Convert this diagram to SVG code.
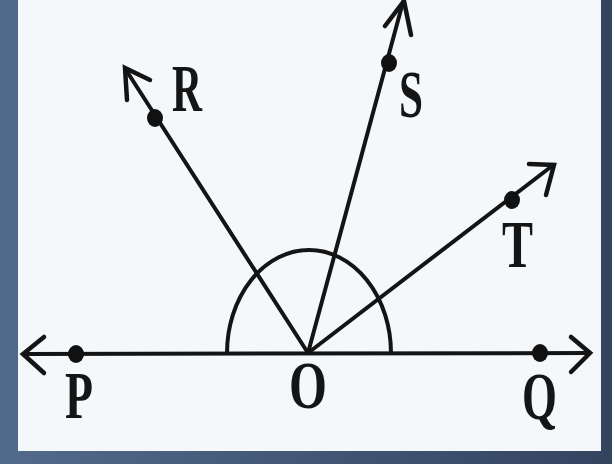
<svg xmlns="http://www.w3.org/2000/svg" width="612" height="464" viewBox="0 0 612 464">
<defs>
<linearGradient id="bg" x1="0" y1="0" x2="1" y2="0">
<stop offset="0" stop-color="#526a8c"/>
<stop offset="1" stop-color="#33445f"/>
</linearGradient>
<style>
.ln{stroke:#141414;stroke-width:4;fill:none;stroke-linecap:round;stroke-linejoin:round}
.hd{stroke:#141414;stroke-width:4.5;fill:none;stroke-linecap:round;stroke-linejoin:miter}
.dot{fill:#111}
.lb{font-family:"Liberation Serif","Times New Roman",serif;font-size:68px;font-weight:bold;fill:#151515}
</style>
</defs>
<rect x="0" y="0" width="612" height="464" fill="url(#bg)"/>
<rect x="18" y="0" width="583" height="451" fill="#f5f8fb"/>
<g id="connectors">
<path id="arc" class="ln" d="M227,353 A82,103 0 0 1 391,353"/>
<line id="PQ" class="ln" x1="24" y1="354" x2="589" y2="353"/>
<line id="OR" class="ln" x1="308" y1="353" x2="126" y2="70"/>
<line id="OS" class="ln" x1="308" y1="353" x2="403" y2="2"/>
<line id="OT" class="ln" x1="308" y1="353" x2="552" y2="166"/>
<polyline class="hd" points="44,337 23,354 44,373"/>
<polyline class="hd" points="571,337 590,353 571,372"/>
<polyline class="hd" points="150,80 125,68 127,100"/>
<polyline class="hd" points="385,26 404,1 411,35"/>
<polyline class="hd" points="529,164 554,165 546,195"/>
</g>
<g id="node-P"><ellipse class="dot" cx="76" cy="354" rx="8" ry="9"/><text class="lb" x="65" y="418" textLength="28" lengthAdjust="spacingAndGlyphs" font-size="78">P</text></g>
<g id="node-O"><text class="lb" x="289" y="408" textLength="38" lengthAdjust="spacingAndGlyphs">O</text></g>
<g id="node-Q"><ellipse class="dot" cx="540" cy="353" rx="8" ry="9"/><text class="lb" x="522" y="419" textLength="35" lengthAdjust="spacingAndGlyphs" font-size="78">Q</text></g>
<g id="node-R"><ellipse class="dot" cx="155" cy="118" rx="8" ry="9"/><text class="lb" x="172" y="111" textLength="30" lengthAdjust="spacingAndGlyphs">R</text></g>
<g id="node-S"><ellipse class="dot" cx="389" cy="63" rx="8" ry="9"/><text class="lb" x="399" y="117" textLength="24" lengthAdjust="spacingAndGlyphs">S</text></g>
<g id="node-T"><ellipse class="dot" cx="512" cy="200" rx="8" ry="9"/><text class="lb" x="502" y="267" textLength="31" lengthAdjust="spacingAndGlyphs" font-size="72">T</text></g>
</svg>
